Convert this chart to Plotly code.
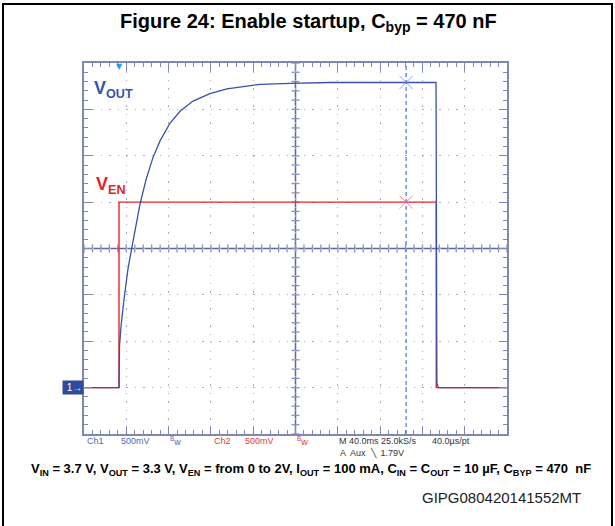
import plotly.graph_objects as go

# ---- captured waveforms (time in ms relative to the enable edge, volts) ----
vout_t = [-33.1, 0.0, 0.5, 1.9, 4.7, 8.5, 12.3, 16.1, 19.9, 25.5, 32.1,
          38.8, 48.2, 57.7, 70.0, 86.0, 102.1, 121.0, 133.3, 161.7, 199.5,
          299.8, 300.6, 302.0, 366.9]
vout_v = [0.0, 0.0, 0.45, 0.66, 0.95, 1.28, 1.52, 1.76, 1.98, 2.24, 2.48,
          2.66, 2.85, 2.98, 3.09, 3.17, 3.22, 3.25, 3.27, 3.28, 3.29,
          3.29, 0.05, 0.0, 0.0]

ven_t = [-33.1, 0.0, 0.0, 300.0, 300.0, 366.9]
ven_v = [0.0, 0.0, 2.0, 2.0, 0.0, 0.0]

cursor_t = 271.5          # cursor A position, ms
cursor_vout = 3.29        # V_OUT reading at the cursor
cursor_ven = 2.0          # V_EN reading at the cursor

# scope screen settings
t_left = -33.1            # ms at the left edge
t_div = 40.0              # ms / div
v_bottom = -0.5           # V at the bottom edge
v_div = 0.5               # V / div
n_xdiv, n_ydiv = 10, 8

W, H = 615, 526
L, R, T, B = 84, 507, 63, 434      # screen edges in pixels

BLUE = "#3a50a8"
RED = "#e8232b"
FRAME = "#7f87b3"
GRID = "#a4aac8"


def px_x(p):
    return (p - L) / (R - L)


def px_y(p):
    return (B - p) / (B - T)


t_right = t_left + n_xdiv * t_div
v_top = v_bottom + n_ydiv * v_div
t_mid = t_left + n_xdiv / 2 * t_div
v_mid = v_bottom + n_ydiv / 2 * v_div

fig = go.Figure()

fig.add_trace(go.Scatter(x=ven_t, y=ven_v, mode="lines",
                         line=dict(color=RED, width=1.4), hoverinfo="skip"))
fig.add_trace(go.Scatter(x=vout_t, y=vout_v, mode="lines",
                         line=dict(color=BLUE, width=1.3), hoverinfo="skip"))

# cursor crossings
fig.add_trace(go.Scatter(x=[cursor_t], y=[cursor_vout], mode="markers",
                         marker=dict(symbol="x-thin-open", size=13, color="#86a6e6",
                                     line=dict(color="#86a6e6", width=1)),
                         hoverinfo="skip"))
fig.add_trace(go.Scatter(x=[cursor_t], y=[cursor_ven], mode="markers",
                         marker=dict(symbol="x-thin-open", size=13, color="#f29090",
                                     line=dict(color="#f29090", width=1)),
                         hoverinfo="skip"))

shapes = []
# cursor line
shapes.append(dict(type="line", xref="x", yref="paper", x0=cursor_t, x1=cursor_t,
                   y0=0, y1=1, line=dict(color="#4a78d0", width=1.2, dash="4px,3px"),
                   layer="above"))
# center crosshair
shapes.append(dict(type="line", xref="paper", yref="y", x0=0, x1=1, y0=v_mid, y1=v_mid,
                   line=dict(color="#5f679e", width=1.5), layer="below"))
shapes.append(dict(type="line", xref="x", yref="paper", x0=t_mid, x1=t_mid, y0=0, y1=1,
                   line=dict(color="#5f679e", width=1.5), layer="below"))
for i in range(n_xdiv * 5 + 1):
    t = t_left + i * t_div / 5
    shapes.append(dict(type="line", xref="x", yref="y", ysizemode="pixel", yanchor=v_mid,
                       x0=t, x1=t, y0=-4, y1=4, line=dict(color="#8a92bb", width=1.3),
                       layer="below"))
for i in range(n_ydiv * 5 + 1):
    v = v_bottom + i * v_div / 5
    shapes.append(dict(type="line", xref="x", yref="y", xsizemode="pixel", xanchor=t_mid,
                       x0=-4, x1=4, y0=v, y1=v, line=dict(color="#8a92bb", width=1.3),
                       layer="below"))
# outer frame of the page
shapes.append(dict(type="rect", xref="paper", yref="paper",
                   x0=px_x(3), x1=px_x(612), y0=px_y(4), y1=px_y(540),
                   line=dict(color="black", width=2)))


def note(x, y, text, size, color, family="Liberation Sans", xanchor="center", **kw):
    d = dict(x=px_x(x), y=px_y(y), xref="paper", yref="paper", xanchor=xanchor,
             yanchor="middle", text=text, showarrow=False,
             font=dict(family=family, size=size, color=color))
    d.update(kw)
    return d


ann = []
ann.append(note(308, 23, "<b>Figure 24: Enable startup, C<sub>byp</sub> = 470 nF</b>", 20, "black"))
ann.append(note(92, 89, "<b>V<sub>OUT</sub></b>", 18, "#3555a8", xanchor="left"))
ann.append(note(94, 185, "<b>V<sub>EN</sub></b>", 18, RED, xanchor="left"))
# channel 1 ground marker
ann.append(dict(x=px_x(84), y=0.0, xref="paper", yref="y", xanchor="right", yanchor="middle",
                text=" 1\u2192", showarrow=False, bgcolor="#2f4b9c", borderpad=1,
                font=dict(family="Liberation Sans", size=10, color="white")))
# trigger position marker
ann.append(dict(x=0.0, y=1, xref="x", yref="paper", yanchor="top", yshift=3,
                text="\u25bc", showarrow=False,
                font=dict(family="DejaVu Sans", size=8, color="#2e9ce0")))

status = [
    (85, "Ch1", "#4a6ab8"), (119, "500mV", "#4a6ab8"), (168, "<sup>B</sup>w", "#4a6ab8"),
    (212, "Ch2", "#e83a3a"), (243, "500mV", "#e83a3a"), (295, "<sup>B</sup>w", "#e83a3a"),
    (337, "M 40.0ms 25.0kS/s", "#333333"), (430, "40.0\u00b5s/pt", "#333333"),
]
for x0, txt, col in status:
    ann.append(note(x0, 441, txt, 9, col, xanchor="left"))
ann.append(note(338, 453, "A  Aux  \u2572  1.79V", 9, "#333333", xanchor="left"))

ann.append(note(311, 470,
                "<b>V<sub>IN</sub> = 3.7 V, V<sub>OUT</sub> = 3.3 V, V<sub>EN</sub> = from 0 to 2V, "
                "I<sub>OUT</sub> = 100 mA, C<sub>IN</sub> = C<sub>OUT</sub> = 10 \u00b5F, "
                "C<sub>BYP</sub> = 470  nF</b>", 13, "black",
                family="Liberation Sans Narrow, Liberation Sans"))
ann.append(note(501, 497, "GIPG080420141552MT", 15, "#222222"))

axis_common = dict(showticklabels=False, zeroline=False, showline=True, linecolor=FRAME,
                   linewidth=2, mirror="ticks", ticks="inside", ticklen=8, tickwidth=1.3,
                   tickcolor=FRAME, showgrid=True, gridcolor=GRID, gridwidth=1.2)

fig.update_layout(
    width=W, height=H, margin=dict(l=L, r=W - R, t=T, b=H - B),
    paper_bgcolor="white", plot_bgcolor="white", showlegend=False,
    xaxis=dict(range=[t_left, t_right], tick0=t_left, dtick=t_div,
               griddash="1.3px,7.16px",
               minor=dict(ticks="inside", ticklen=4, tickwidth=1.3, tickcolor=FRAME,
                          dtick=t_div / 5, tick0=t_left, showgrid=False),
               **axis_common),
    yaxis=dict(range=[v_bottom, v_top], tick0=v_bottom, dtick=v_div,
               griddash="1.3px,7.16px",
               minor=dict(ticks="inside", ticklen=4, tickwidth=1.3, tickcolor=FRAME,
                          dtick=v_div / 5, tick0=v_bottom, showgrid=False),
               **axis_common),
    shapes=shapes, annotations=ann,
)

fig.write_html("out.html")
